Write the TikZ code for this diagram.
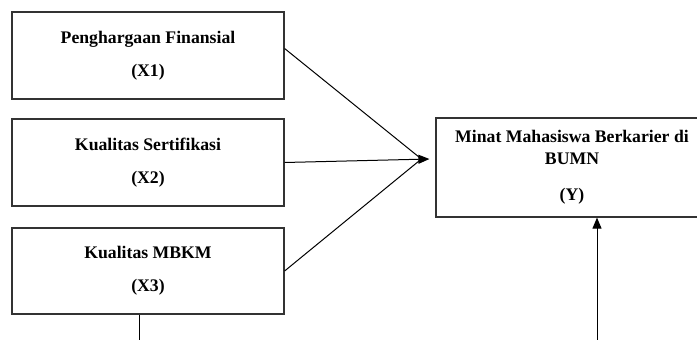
\documentclass[tikz,border=0pt]{standalone}
\usepackage{fontspec}
\setmainfont{Liberation Serif}
\usepackage{tikz}
\usetikzlibrary{positioning,arrows.meta}

\tikzset{
	varbox/.style={draw=black!80, line width=1.2pt, minimum width=272pt, align=center,
		font=\bfseries\fontsize{17.7}{22}\selectfont},
	link/.style={line width=1pt},
	arr/.style={-{Triangle[length=11pt,width=9pt]}},
}

\begin{document}
\begin{tikzpicture}[x=1pt,y=1pt]
	\useasboundingbox (0,0) rectangle (697,-340);
	\clip (0,0) rectangle (697,-340);
	% variabel bebas
	\node[varbox, minimum height=87pt] (x1) at (148,-55.5) {Penghargaan Finansial\\[11pt](X1)};
	\node[varbox, minimum height=87pt] (x2) at (148,-162.5) {Kualitas Sertifikasi\\[11pt](X2)};
	\node[varbox, minimum height=86pt] (x3) at (148,-271) {Kualitas MBKM\\[11pt](X3)};
	% variabel terikat
	\node[varbox, minimum height=99pt] (y) at (572,-167.5) {Minat Mahasiswa Berkarier di\\BUMN\\[14pt](Y)};
	\coordinate (tip) at ([xshift=-6pt,yshift=8.5pt]y.west);
	\coordinate (x3end) at (139,-342);
	\coordinate (yend) at (597,-342);
	\draw[link] ([yshift=7pt]x1.east) -- ([xshift=-8pt]tip);
	\draw[link,arr] (x2.east) -- (tip);
	\draw[link] (x3.east) -- ([xshift=-8pt]tip);
	\draw[link] (x3.south -| x3end) -- (x3end);
	\draw[link,arr] (yend) -- (y.south -| yend);
\end{tikzpicture}
\end{document}
